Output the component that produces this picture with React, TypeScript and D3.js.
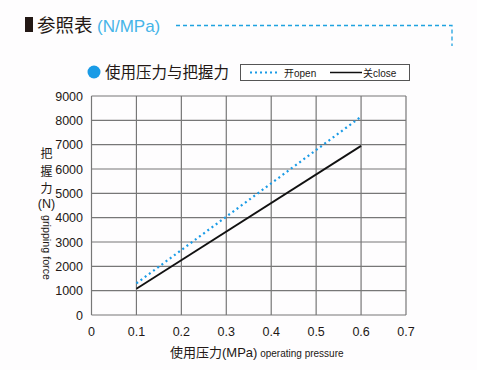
import React from "react";
import * as d3 from "d3";

const pressures = [0.1, 0.6];
const openForce = [1300, 8150];
const closeForce = [1080, 6950];
const xTicks = [0, 0.1, 0.2, 0.3, 0.4, 0.5, 0.6, 0.7];
const yTicks = [0, 1000, 2000, 3000, 4000, 5000, 6000, 7000, 8000, 9000];

const FONT = "'Liberation Sans', 'Noto Sans CJK SC', sans-serif";
const CJK = "'Noto Sans CJK SC', sans-serif";
const BLUE = "#1a9be6";

export default function App() {
  const x = d3.scaleLinear().domain([0, 0.7]).range([91.5, 406]);
  const y = d3.scaleLinear().domain([0, 9000]).range([315, 96]);
  const line = d3
    .line<number>()
    .x((_, i) => x(pressures[i]))
    .y((d) => y(d));

  return (
    <svg width={477} height={370} style={{ position: "absolute", left: 0, top: 0, background: "#fff" }} fontFamily={FONT}>
      <rect x={0} y={0} width={477} height={370} fill="#fefdfe" />
      {/* title */}
      <rect x={25} y={17} width={8} height={15} fill="#231815" />
      <text x={37} y={31.5} fontSize={18.5} fill="#231815" fontFamily={CJK}>参照表</text>
      <text x={97} y={32} fontSize={17} fill="#45b4e8">(N/MPa)</text>
      <path d="M176,25.5 H452 V46" fill="none" stroke="#1fa3e0" strokeWidth={1.3} strokeDasharray="4,3" />

      {/* legend */}
      <circle cx={94} cy={72} r={6.5} fill={BLUE} />
      <text x={105} y={78} fontSize={15.5} fill="#231815" fontFamily={CJK}>使用压力与把握力</text>
      <rect x={240.5} y={64.5} width={169} height={16} fill="#fff" stroke="#555" strokeWidth={1} />
      <line x1={250} x2={279} y1={72.5} y2={72.5} stroke={BLUE} strokeWidth={2} strokeDasharray="2,3" />
      <text x={284} y={76.5} fontSize={10} fill="#231815">开open</text>
      <line x1={330} x2={362} y1={72.5} y2={72.5} stroke="#111" strokeWidth={1.5} />
      <text x={363} y={76.5} fontSize={10} fill="#231815">关close</text>

      {/* grid */}
      {xTicks.map((t) => (
        <line key={"gx" + t} x1={x(t)} x2={x(t)} y1={y(9000)} y2={y(0)} stroke="#777" strokeWidth={1.2} />
      ))}
      {yTicks.map((t) => (
        <line key={"gy" + t} x1={x(0)} x2={x(0.7)} y1={y(t)} y2={y(t)} stroke="#777" strokeWidth={1.2} />
      ))}

      {/* tick labels */}
      {yTicks.map((t) => (
        <text key={"yl" + t} x={83} y={y(t) + 4.5} fontSize={12.5} textAnchor="end" fill="#231815">{t}</text>
      ))}
      {xTicks.map((t) => (
        <text key={"xl" + t} x={x(t)} y={336} fontSize={12.5} textAnchor="middle" fill="#231815">{t === 0 ? "0" : t.toFixed(1)}</text>
      ))}

      {/* axis titles */}
      <text x={170} y={357} fontSize={13} fill="#231815">
        <tspan fontFamily={CJK}>使用压力</tspan>(MPa)<tspan fontSize={10}> operating pressure</tspan>
      </text>
      {["把", "握", "力"].map((c, i) => (
        <text key={c} x={46.5} y={158 + i * 17.5} fontSize={12} textAnchor="middle" fill="#231815" fontFamily={CJK}>{c}</text>
      ))}
      <text x={46.5} y={208} fontSize={12.5} textAnchor="middle" fill="#231815">(N)</text>
      <text transform="translate(43,215) rotate(90)" fontSize={11} textLength={65} lengthAdjust="spacingAndGlyphs" fill="#231815">gripping force</text>

      {/* series */}
      <path d={line(closeForce) || ""} fill="none" stroke="#111" strokeWidth={1.8} />
      <path d={line(openForce) || ""} fill="none" stroke={BLUE} strokeWidth={2.2} strokeDasharray="2,3.2" />
    </svg>
  );
}
